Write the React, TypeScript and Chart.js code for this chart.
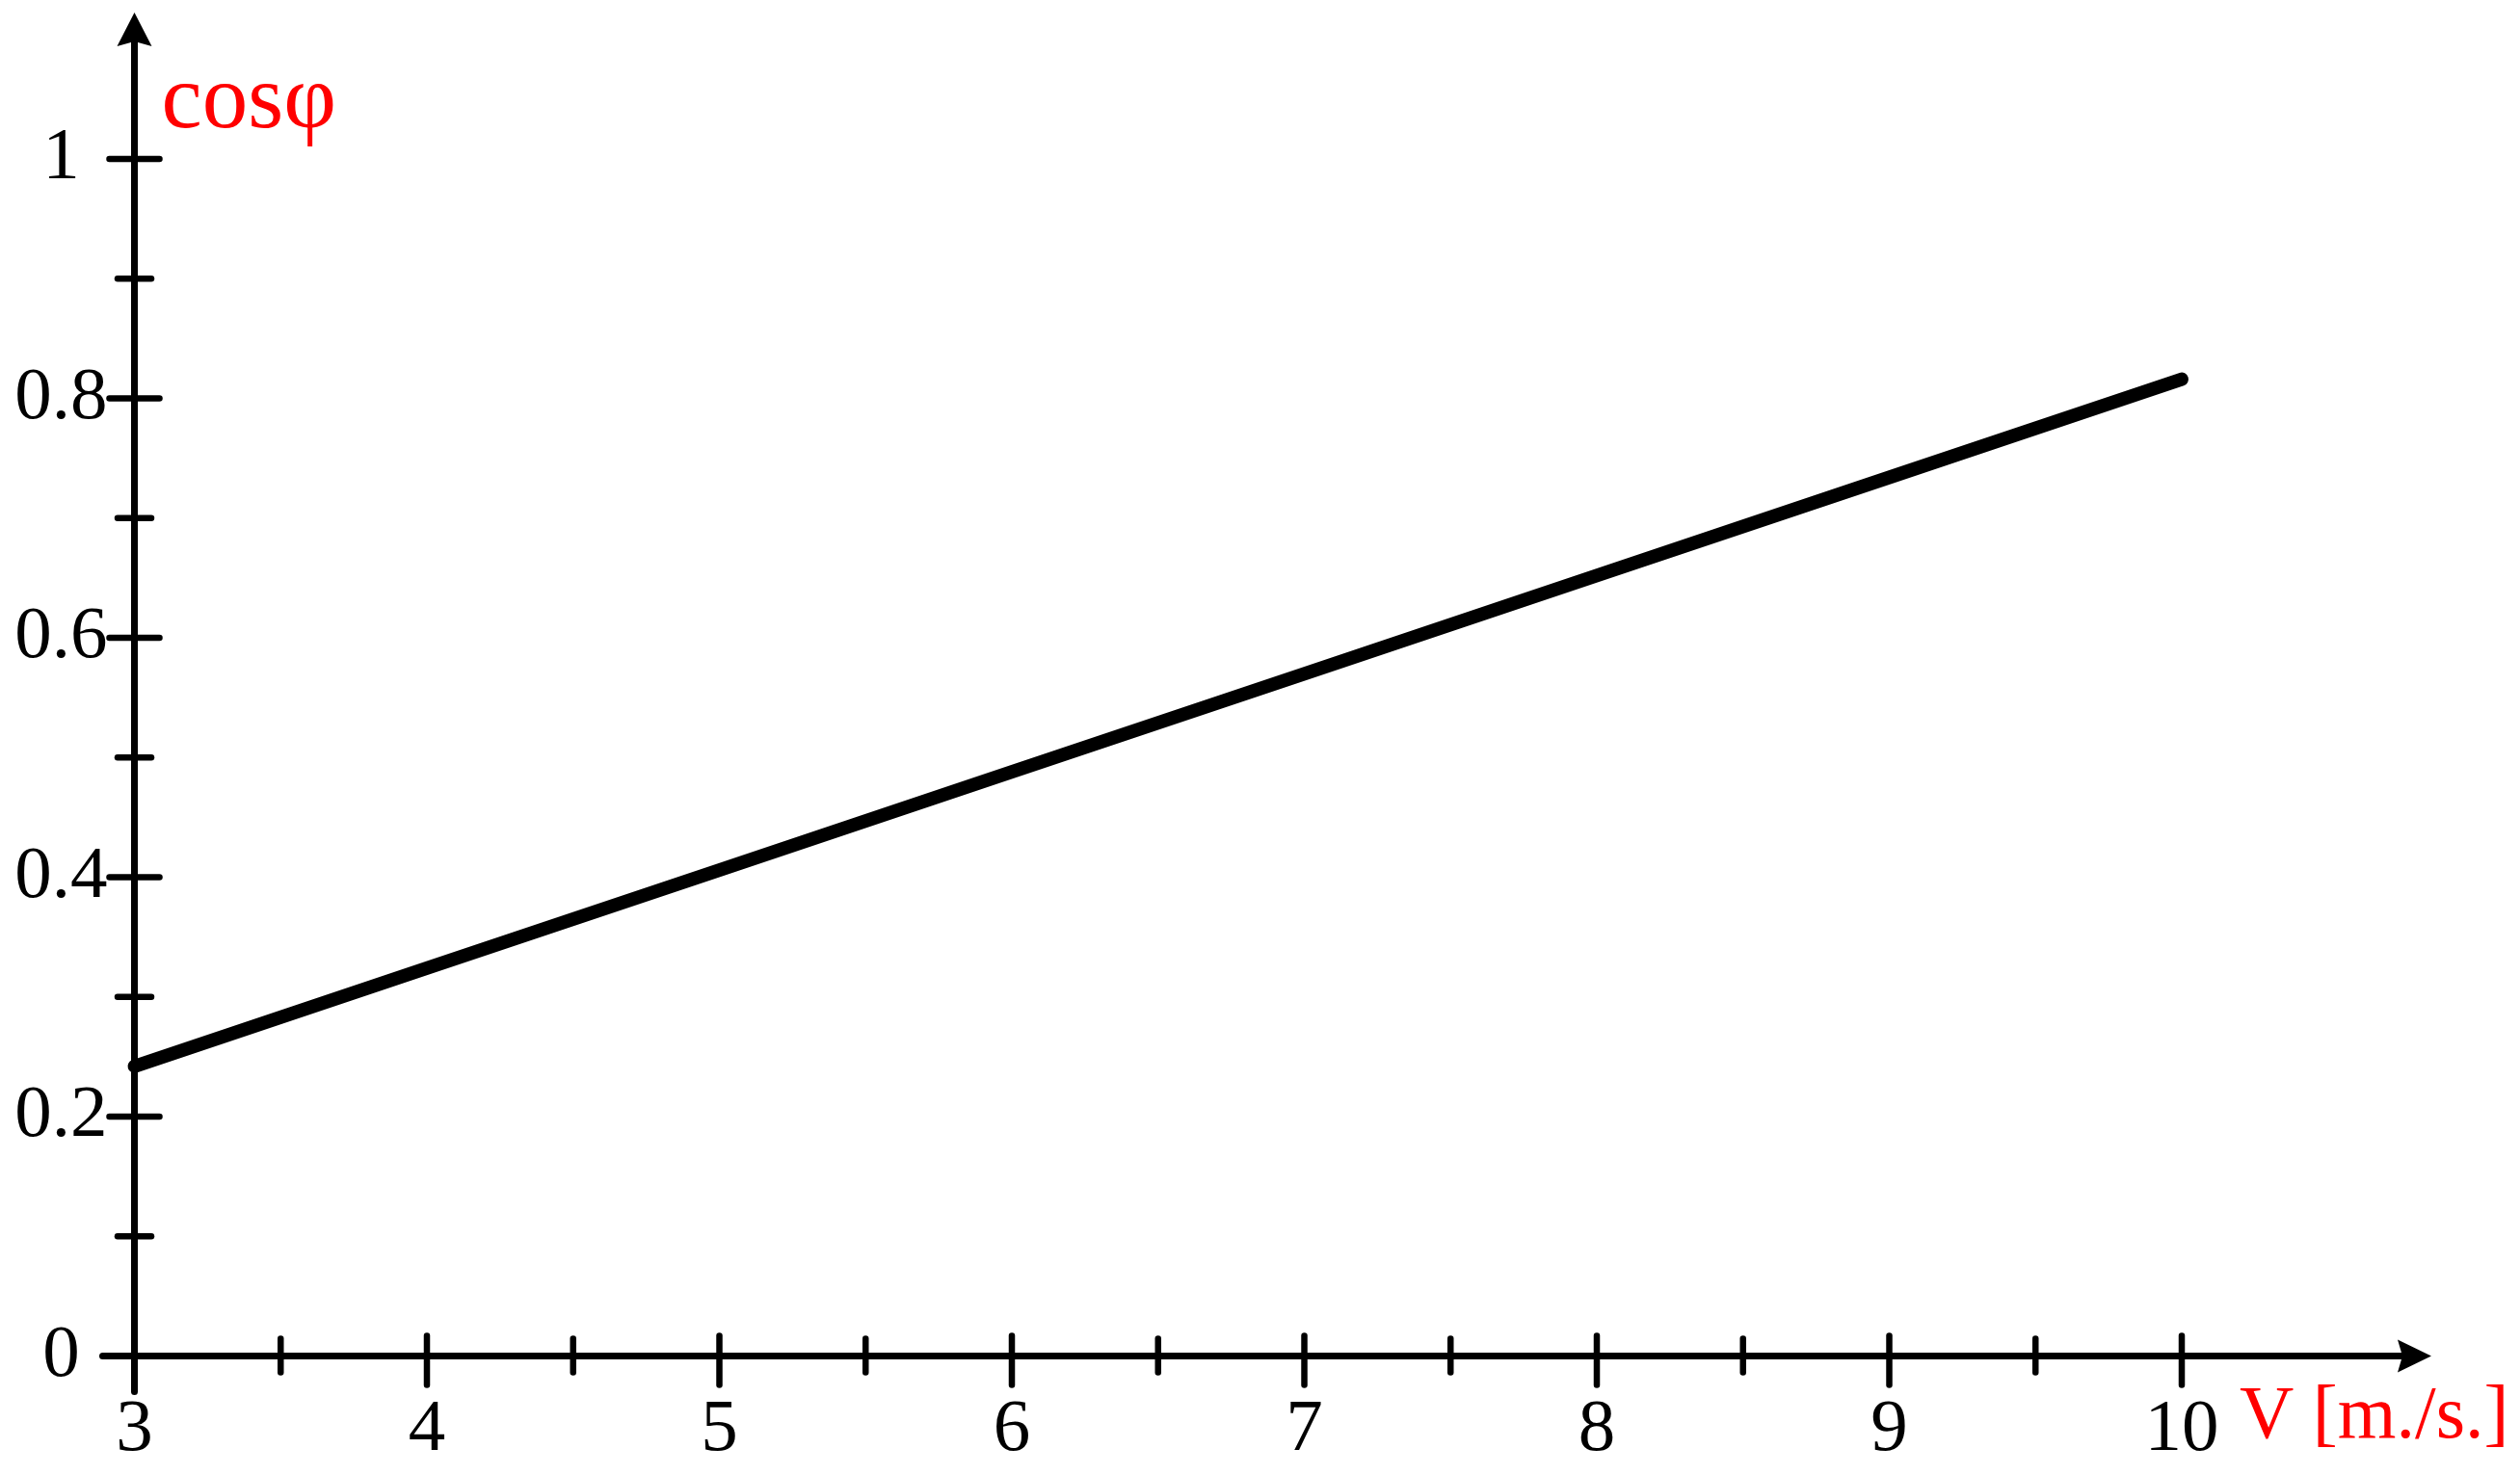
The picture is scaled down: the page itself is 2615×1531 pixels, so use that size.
import React, { useEffect, useRef } from "react";
import { Chart, registerables } from "chart.js";

Chart.register(...registerables);

// ---- data ----
const speeds = [3, 4, 5, 6, 7, 8, 9, 10];
const cosPhi = [0.242, 0.324, 0.406, 0.488, 0.57, 0.652, 0.734, 0.816];
const xRange = [3, 10];
const yRange = [0, 1];
const xTickStep = 0.5;
const yTickStep = 0.1;
const xTitle = "V [m./s.]";
const yTitle = "cosφ";

const FONT = '"Liberation Serif", "Times New Roman", Times, serif';
const RED = "#ff0000";

const isMajorX = (v: number) => Math.abs(v - Math.round(v)) < 1e-6;
const isMajorY = (v: number) => Math.round(v * 10) % 2 === 0;

const arrowAxes = {
  id: "arrowAxes",
  afterDatasetsDraw(chart: any) {
    const { ctx, scales } = chart;
    const x = scales.x;
    const y = scales.y;
    const x0 = x.getPixelForValue(xRange[0]);
    const y0 = y.getPixelForValue(yRange[0]);
    const yTop = y.getPixelForValue(yRange[1]);
    const xRight = x.getPixelForValue(xRange[1]);
    ctx.save();
    ctx.strokeStyle = "#000";
    ctx.fillStyle = "#000";
    ctx.lineCap = "round";
    ctx.lineWidth = 7;

    // y axis + arrow
    const yTip = yTop - 152;
    ctx.beginPath();
    ctx.moveTo(x0, y0 + 37);
    ctx.lineTo(x0, yTip + 30);
    ctx.stroke();
    ctx.beginPath();
    ctx.moveTo(x0, yTip);
    ctx.lineTo(x0 - 18, yTip + 35);
    ctx.lineTo(x0, yTip + 30);
    ctx.lineTo(x0 + 18, yTip + 35);
    ctx.closePath();
    ctx.fill();

    // x axis + arrow
    const xTip = xRight + 259;
    ctx.beginPath();
    ctx.moveTo(x0 - 33, y0);
    ctx.lineTo(xTip - 30, y0);
    ctx.stroke();
    ctx.beginPath();
    ctx.moveTo(xTip, y0);
    ctx.lineTo(xTip - 35, y0 - 17);
    ctx.lineTo(xTip - 30, y0);
    ctx.lineTo(xTip - 35, y0 + 17);
    ctx.closePath();
    ctx.fill();

    // tick marks
    ctx.lineWidth = 6.5;
    x.ticks.forEach((t: any) => {
      const px = x.getPixelForValue(t.value);
      const major = isMajorX(t.value);
      ctx.beginPath();
      ctx.moveTo(px, y0 - (major ? 21 : 18));
      ctx.lineTo(px, y0 + (major ? 30 : 17));
      ctx.stroke();
    });
    y.ticks.forEach((t: any) => {
      if (Math.abs(t.value) < 1e-9) return;
      const py = y.getPixelForValue(t.value);
      const major = isMajorY(t.value);
      const h = major ? 26 : 17.5;
      ctx.beginPath();
      ctx.moveTo(x0 - h, py);
      ctx.lineTo(x0 + h, py);
      ctx.stroke();
    });

    // axis titles
    ctx.fillStyle = RED;
    ctx.textBaseline = "alphabetic";
    ctx.textAlign = "left";
    ctx.font = `95px ${FONT}`;
    ctx.fillText(yTitle, x0 + 28, yTop - 33);
    ctx.font = `78px ${FONT}`;
    ctx.fillText(xTitle, xRight + 60, y0 + 84);
    ctx.restore();
  },
};

export default function App() {
  const ref = useRef<HTMLCanvasElement | null>(null);

  useEffect(() => {
    if (!ref.current) return;
    const chart = new Chart(ref.current, {
      type: "line",
      data: {
        labels: speeds,
        datasets: [
          {
            data: speeds.map((s, i) => ({ x: s, y: cosPhi[i] })),
            borderColor: "#000",
            borderWidth: 14,
            borderCapStyle: "round",
            borderJoinStyle: "round",
            pointRadius: 0,
            fill: false,
            tension: 0,
            clip: false as any,
          },
        ],
      },
      options: {
        responsive: false,
        animation: false,
        devicePixelRatio: 1,
        layout: { padding: { top: 165, right: 351, left: 0, bottom: 0 } },
        plugins: { legend: { display: false }, tooltip: { enabled: false } },
        scales: {
          x: {
            type: "linear",
            min: xRange[0],
            max: xRange[1],
            afterFit: (s: any) => {
              s.height = 123.5;
            },
            grid: { display: false, drawTicks: false },
            border: { display: false },
            ticks: {
              stepSize: xTickStep,
              autoSkip: false,
              maxRotation: 0,
              padding: 31,
              color: "#000",
              font: { family: FONT, size: 77 },
              callback: (v: any) => (isMajorX(Number(v)) ? String(Math.round(Number(v))) : ""),
            },
          },
          y: {
            type: "linear",
            min: yRange[0],
            max: yRange[1],
            afterFit: (s: any) => {
              s.width = 139.5;
            },
            grid: { display: false, drawTicks: false },
            border: { display: false },
            ticks: {
              stepSize: yTickStep,
              autoSkip: false,
              crossAlign: "center",
              padding: 28,
              color: "#000",
              font: { family: FONT, size: 77 },
              callback: (v: any) => {
                const n = Number(v);
                if (!isMajorY(n)) return "";
                return String(Math.round(n * 10) / 10);
              },
            },
          },
        },
      },
      plugins: [arrowAxes],
    } as any);
    return () => chart.destroy();
  }, []);

  return (
    <div style={{ position: "absolute", left: 0, top: 0, width: 2615, height: 1531, background: "#fff" }}>
      <canvas ref={ref} width={2615} height={1531} style={{ display: "block" }} />
    </div>
  );
}
